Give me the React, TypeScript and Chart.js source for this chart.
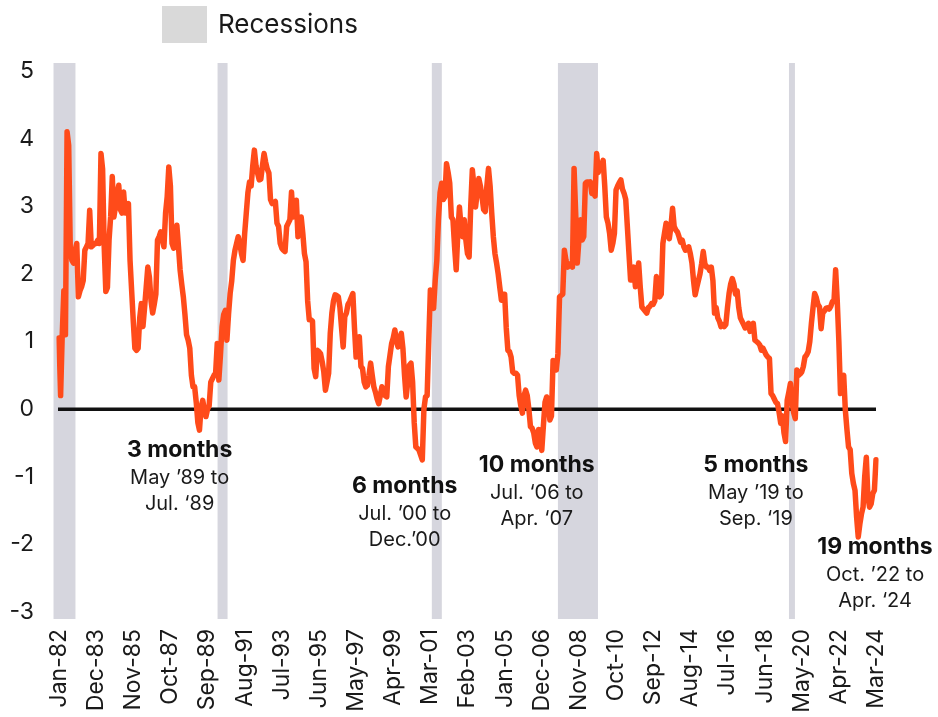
import React, { useEffect, useRef } from "react";
import { Chart, registerables } from "chart.js";

Chart.register(...registerables);

// Monthly yield-curve spread (percentage points), Jan-82 .. Mar-24, one row per year
const yieldSpread: number[] = [
  1.05, 0.2, 1.1, 1.75, 1.1, 4.1, 3.9, 2.35, 2.2, 2.16, 2.35, 2.45, // 1982
  1.66, 1.75, 1.81, 1.9, 2.35, 2.4, 2.45, 2.94, 2.4, 2.42, 2.45, 2.45, // 1983
  2.5, 2.45, 3.78, 3.55, 2.4, 1.74, 1.8, 2.5, 2.85, 3.44, 2.84, 3.0, // 1984
  3.19, 3.31, 2.95, 2.9, 3.21, 2.9, 3.0, 3.04, 2.2, 1.75, 1.3, 0.9, // 1985
  0.87, 0.9, 1.35, 1.56, 1.22, 1.5, 1.8, 2.1, 1.95, 1.6, 1.42, 1.55, // 1986
  1.7, 2.5, 2.55, 2.62, 2.5, 2.4, 2.9, 3.14, 3.58, 3.3, 2.45, 2.38, // 1987
  2.6, 2.72, 2.4, 2.06, 1.85, 1.66, 1.4, 1.1, 1.02, 0.9, 0.5, 0.33, // 1988
  0.33, 0.1, -0.2, -0.31, 0.03, 0.13, 0.0, -0.11, 0.0, 0.05, 0.4, 0.45, // 1989
  0.5, 0.53, 0.97, 0.43, 0.8, 1.22, 1.4, 1.46, 1.02, 1.4, 1.71, 1.9, // 1990
  2.2, 2.35, 2.45, 2.55, 2.45, 2.3, 2.2, 2.6, 2.9, 3.2, 3.36, 3.3, // 1991
  3.6, 3.83, 3.6, 3.49, 3.39, 3.4, 3.6, 3.78, 3.65, 3.55, 3.49, 3.1, // 1992
  3.04, 3.05, 3.07, 2.75, 2.7, 2.45, 2.38, 2.35, 2.33, 2.7, 2.75, 2.8, // 1993
  3.21, 2.84, 2.95, 3.09, 2.55, 2.7, 2.84, 2.6, 2.3, 2.18, 1.6, 1.32, // 1994
  1.32, 1.3, 0.6, 0.48, 0.87, 0.85, 0.82, 0.7, 0.55, 0.28, 0.4, 0.53, // 1995
  1.12, 1.42, 1.6, 1.69, 1.68, 1.66, 1.5, 1.2, 0.92, 1.37, 1.42, 1.55, // 1996
  1.59, 1.65, 1.71, 1.2, 0.77, 0.9, 1.07, 0.63, 0.6, 0.4, 0.33, 0.35, // 1997
  0.5, 0.68, 0.5, 0.33, 0.25, 0.15, 0.08, 0.2, 0.33, 0.25, 0.2, 0.18, // 1998
  0.63, 0.8, 0.97, 1.05, 1.17, 1.0, 0.92, 1.05, 1.12, 0.9, 0.5, 0.18, // 1999
  0.4, 0.65, 0.68, 0.4, -0.2, -0.56, -0.58, -0.61, -0.68, -0.75, 0.0, 0.18, // 2000
  0.2, 1.0, 1.76, 1.6, 1.49, 1.9, 2.2, 2.8, 3.2, 3.34, 3.1, 3.14, // 2001
  3.63, 3.5, 3.34, 2.84, 2.8, 2.4, 2.06, 2.6, 2.99, 2.7, 2.55, 2.8, // 2002
  2.5, 2.3, 2.25, 3.0, 3.54, 3.3, 2.99, 3.2, 3.41, 3.3, 3.14, 2.95, // 2003
  2.92, 3.3, 3.56, 3.3, 2.9, 2.55, 2.3, 2.16, 2.0, 1.8, 1.61, 1.7, // 2004
  1.7, 1.2, 0.87, 0.85, 0.77, 0.55, 0.53, 0.53, 0.5, 0.2, 0.05, -0.06, // 2005
  0.2, 0.28, 0.2, 0.0, -0.26, -0.28, -0.35, -0.5, -0.56, -0.3, -0.4, -0.61, // 2006
  -0.25, 0.1, 0.18, 0.15, -0.16, -0.1, 0.72, 0.65, 0.58, 0.82, 1.66, 1.68, // 2007
  1.7, 2.35, 2.2, 2.1, 2.12, 2.15, 2.1, 3.56, 2.9, 2.16, 2.5, 2.8, // 2008
  2.5, 2.55, 3.34, 3.36, 3.35, 3.36, 3.19, 3.2, 3.15, 3.78, 3.5, 3.63, // 2009
  3.6, 3.68, 3.3, 2.84, 2.75, 2.6, 2.35, 2.45, 2.6, 3.24, 3.3, 3.35, // 2010
  3.39, 3.25, 3.19, 3.1, 2.7, 2.3, 1.91, 2.0, 2.1, 1.81, 2.0, 2.16, // 2011
  1.8, 1.51, 1.48, 1.45, 1.42, 1.5, 1.52, 1.56, 1.55, 1.6, 1.96, 1.8, // 2012
  1.66, 1.7, 2.45, 2.6, 2.75, 2.6, 2.52, 2.7, 2.97, 2.7, 2.65, 2.62, // 2013
  2.55, 2.47, 2.5, 2.4, 2.35, 2.38, 2.4, 2.3, 2.16, 1.9, 1.69, 1.8, // 2014
  1.9, 2.0, 2.15, 2.33, 2.15, 2.1, 2.1, 2.05, 2.1, 1.9, 1.42, 1.5, // 2015
  1.35, 1.3, 1.22, 1.25, 1.22, 1.25, 1.5, 1.71, 1.85, 1.93, 1.85, 1.7, // 2016
  1.75, 1.5, 1.35, 1.3, 1.25, 1.2, 1.22, 1.27, 1.15, 1.2, 1.27, 1.02, // 2017
  1.0, 0.98, 0.95, 0.87, 0.9, 0.85, 0.8, 0.77, 0.75, 0.23, 0.2, 0.15, // 2018
  0.1, 0.08, -0.05, -0.21, -0.1, -0.35, -0.48, 0.13, 0.25, 0.38, 0.1, -0.05, // 2019
  -0.14, 0.58, 0.5, 0.52, 0.55, 0.63, 0.77, 0.8, 0.85, 1.0, 1.27, 1.5, // 2020
  1.71, 1.65, 1.55, 1.51, 1.19, 1.42, 1.45, 1.49, 1.5, 1.48, 1.52, 1.59, // 2021
  1.6, 2.06, 1.6, 1.0, 0.23, 0.45, 0.5, -0.01, -0.3, -0.56, -0.6, -0.95, // 2022
  -1.1, -1.2, -1.6, -1.89, -1.7, -1.55, -1.45, -1.0, -0.71, -1.3, -1.45, -1.4, // 2023
  -1.25, -1.2, -0.75, // 2024
];

const monthNames = ["Jan", "Feb", "Mar", "Apr", "May", "Jun", "Jul", "Aug", "Sep", "Oct", "Nov", "Dec"];
const startYear = 1982;

// x-axis tick labels shown
const tickLabels = [
  "Jan-82", "Dec-83", "Nov-85", "Oct-87", "Sep-89", "Aug-91", "Jul-93", "Jun-95",
  "May-97", "Apr-99", "Mar-01", "Feb-03", "Jan-05", "Dec-06", "Nov-08", "Oct-10",
  "Sep-12", "Aug-14", "Jul-16", "Jun-18", "May-20", "Apr-22", "Mar-24",
];

// y-axis
const yMin = -3;
const yMax = 5;

// Recession shading, in months since Jan-82 (as drawn)
const recessionStart = [-3.4, 98.2, 230.9, 309, 452.1];
const recessionEnd = [10.2, 104.4, 237.1, 333.8, 455.8];

// Inversion annotations
const annTitle = ["3 months", "6 months", "10 months", "5 months", "19 months"];
const annLine1 = ["May \u201989 to", "Jul. \u201900 to", "Jul. \u201806 to", "May \u201919 to", "Oct. \u201922 to"];
const annLine2 = ["Jul. \u201889", "Dec.\u201900", "Apr. \u201807", "Sep. \u201819", "Apr. \u201824"];
const annMonth = [74.7, 214.1, 295.9, 431.6, 505.4];
const annValue = [-0.61, -1.14, -0.83, -0.83, -2.04];

const legendLabel = "Recessions";

const categories = yieldSpread.map((_, i) => {
  const yr = (startYear + Math.floor(i / 12)) % 100;
  return `${monthNames[i % 12]}-${String(yr).padStart(2, "0")}`;
});

const FONT = "Inter, 'Open Sans', 'DejaVu Sans', sans-serif";
const LINE_COLOR = "#ff4b1a";
const BAND_COLOR = "#d6d6de";
const LEGEND_BOX = "#d9d9d9";
const TEXT = "#1a1a1a";

const overlayPlugin = {
  id: "overlay",
  beforeDatasetsDraw(chart: any) {
    const { ctx, chartArea, scales } = chart;
    const x = scales.x;
    const y = scales.y;
    ctx.save();
    ctx.fillStyle = BAND_COLOR;
    recessionStart.forEach((s, k) => {
      const x0 = x.getPixelForValue(s);
      const x1 = x.getPixelForValue(recessionEnd[k]);
      const top = chartArea.top - 8;
      const bottom = chartArea.bottom + 7;
      ctx.fillRect(x0, top, x1 - x0, bottom - top);
    });
    const y0 = y.getPixelForValue(0);
    ctx.strokeStyle = "#111111";
    ctx.lineWidth = 3.5;
    ctx.beginPath();
    ctx.moveTo(chartArea.left - 1, y0);
    ctx.lineTo(chartArea.right, y0);
    ctx.stroke();
    ctx.restore();
  },
  afterDatasetsDraw(chart: any) {
    const { ctx, scales } = chart;
    const x = scales.x;
    const y = scales.y;
    ctx.save();
    ctx.textAlign = "center";
    ctx.textBaseline = "middle";
    annTitle.forEach((t, k) => {
      const px = x.getPixelForValue(annMonth[k]);
      const py = y.getPixelForValue(annValue[k]);
      ctx.fillStyle = "#111111";
      ctx.font = `bold 23px ${FONT}`;
      ctx.fillText(t, px, py);
      ctx.fillStyle = TEXT;
      ctx.font = `20px ${FONT}`;
      ctx.fillText(annLine1[k], px, py + 28);
      ctx.fillText(annLine2[k], px, py + 54);
    });
    // legend
    ctx.fillStyle = LEGEND_BOX;
    ctx.fillRect(162, 6, 45, 37);
    ctx.fillStyle = TEXT;
    ctx.textAlign = "left";
    ctx.font = `26px ${FONT}`;
    ctx.fillText(legendLabel, 218, 25);
    ctx.restore();
  },
};

export default function App() {
  const canvasRef = useRef<HTMLCanvasElement | null>(null);

  useEffect(() => {
    if (!canvasRef.current) return;
    const chart = new Chart(canvasRef.current, {
      type: "line",
      data: {
        labels: categories,
        datasets: [
          {
            label: "Spread",
            data: yieldSpread,
            borderColor: LINE_COLOR,
            borderWidth: 5.5,
            pointRadius: 0,
            pointHoverRadius: 0,
            tension: 0,
            fill: false,
            borderJoinStyle: "round",
            borderCapStyle: "round",
          },
        ],
      },
      options: {
        animation: false,
        responsive: true,
        maintainAspectRatio: false,
        layout: { padding: { left: 9, right: 62, top: 71, bottom: 0 } },
        plugins: {
          legend: { display: false },
          tooltip: { enabled: false },
        },
        scales: {
          x: {
            type: "category",
            offset: false,
            grid: { display: false, drawTicks: false },
            border: { display: false },
            afterFit: (scale: any) => {
              scale.height = 105;
            },
            ticks: {
              autoSkip: false,
              minRotation: 90,
              maxRotation: 90,
              padding: 17,
              color: TEXT,
              font: { family: FONT, size: 23 },
              callback: function (this: any, val: any) {
                const lab = this.getLabelForValue(val);
                return tickLabels.includes(lab) ? lab : null;
              },
            },
          },
          y: {
            min: yMin,
            max: yMax,
            grid: { display: false, drawTicks: false },
            border: { display: false },
            afterFit: (scale: any) => {
              scale.width = 50;
            },
            ticks: {
              stepSize: 1,
              padding: 25,
              color: TEXT,
              font: { family: FONT, size: 23 },
            },
          },
        },
      },
      plugins: [overlayPlugin],
    });
    return () => chart.destroy();
  }, []);

  return (
    <div style={{ position: "absolute", left: 0, top: 0, width: 938, height: 717 }}>
      <canvas ref={canvasRef} />
    </div>
  );
}
